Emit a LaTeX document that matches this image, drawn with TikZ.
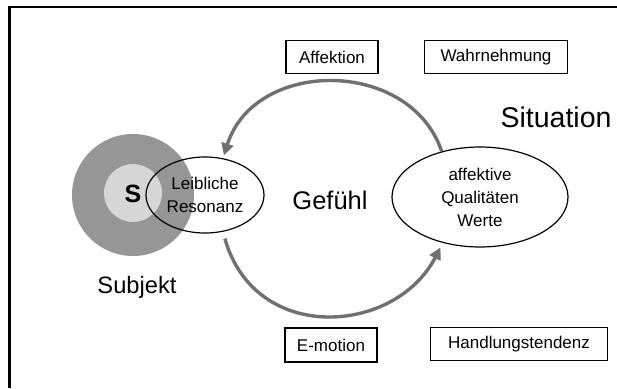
\documentclass[tikz,border=0pt]{standalone}
\usepackage{fontspec}
\setmainfont{Liberation Sans}
\usetikzlibrary{arrows.meta,shapes.geometric}
\definecolor{arcgray}{RGB}{112,112,112}
\definecolor{diskgray}{RGB}{150,150,150}
\definecolor{coregray}{RGB}{214,214,214}

\begin{document}
\begin{tikzpicture}[x=1pt,y=-1pt,
    arg/.style={line width=3.4pt,arcgray,-{Triangle[length=12pt,width=12pt]}},
    lbl/.style={draw,line width=1.2pt,minimum height=33pt,inner sep=0pt,
                font=\fontsize{17}{20}\selectfont},
    ell/.style={draw,ellipse,line width=1.2pt,inner sep=0pt,align=center,
                font=\fontsize{17}{23}\selectfont}]
\useasboundingbox (0,0) rectangle (617,388);
\draw[line width=2.5pt] (9.5,388) -- (9.5,7) -- (617,7);

% Subjekt
\node[circle,fill=diskgray,minimum size=122pt,inner sep=0pt] (disk) at (133,195) {};
\node[circle,fill=coregray,minimum size=58pt,inner sep=0pt] (core) at (133,193) {};
\node[font=\fontsize{25}{25}\selectfont\bfseries] (s) at (133,194) {S};
\node[font=\fontsize{23.7}{26}\selectfont] (subj) at (137,287) {Subjekt};

\node[ell,minimum width=118pt,minimum height=76pt] (leib) at (205,195) {Leibliche\\Resonanz};
\node[ell,minimum width=176pt,minimum height=100pt] (qual) at (480,197) {affektive\\Qualitäten\\Werte};

\node[font=\fontsize{25.5}{28}\selectfont] (gef) at (330,200) {Gefühl};
\node[font=\fontsize{28.5}{30}\selectfont] (sit) at (556,117) {Situation};

% boxes
\node[lbl,minimum width=92pt] (aff) at (332,57) {Affektion};
\node[lbl,minimum width=143pt] (wahr) at (496,57) {Wahrnehmung};
\node[lbl,minimum width=92pt,minimum height=34pt] (emo) at (331,345) {E-motion};
\node[lbl,minimum width=177pt] (hand) at (519,344) {Handlungstendenz};

% cycle
\draw[arg,shorten >=3pt] (qual.130) .. controls (410,58) and (255,58) .. (leib.64);
\draw[arg,shorten <=7pt,shorten >=5pt] (leib.-64) .. controls (255,345) and (395,335) .. (qual.-129);
\end{tikzpicture}
\end{document}
